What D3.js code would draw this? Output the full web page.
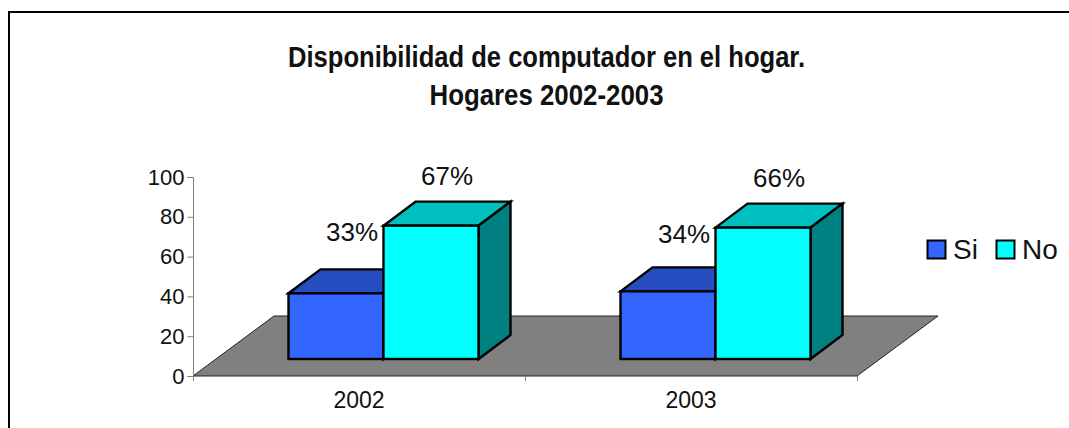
<!DOCTYPE html>
<html><head><meta charset="utf-8">
<script src="https://cdn.jsdelivr.net/npm/d3@7"></script>
<style>html,body{margin:0;padding:0;background:#fff}svg{display:block}text{font-family:"Liberation Sans",Arial,sans-serif;fill:#111}</style>
</head><body><svg id="c" width="1069" height="428"></svg>
<script>
const categories=["2002","2003"];
const seriesNames=["Si","No"];
const si=[33,34];
const no=[67,66];
const yTicks=[0,20,40,60,80,100];
const titleLines=["Disponibilidad de computador en el hogar.","Hogares 2002-2003"];
const titleWidths=[517,234];
const frontColors=["#3366ff","#00ffff"],topColors=["#264dbf","#00bfbf"],sideColors=["#1a3380","#008080"];

const svg=d3.select("#c");
svg.append("path").attr("d","M9,428V12H1069").attr("fill","none").attr("stroke","#000").attr("stroke-width",2);
titleLines.forEach((t,i)=>svg.append("text").attr("x",546.5).attr("y",67+i*38).attr("text-anchor","middle")
 .attr("textLength",titleWidths[i]).attr("lengthAdjust","spacingAndGlyphs")
 .style("font-weight","bold").style("font-size","29px").text(t));

const x=d3.scaleBand().domain(categories).range([193,857]);
const y=d3.scaleLinear().domain([0,100]).range([376,177]);
const fdx=81,fdy=-60;
svg.append("path").attr("d",`M193,376H857L${857+fdx},${376+fdy}H${193+fdx}Z`).attr("fill","#808080").attr("stroke","#222").attr("stroke-width",1);

const yAxis=d3.axisLeft(y).tickValues(yTicks).tickSize(6).tickPadding(3);
const ga=svg.append("g").attr("transform","translate(193.5,0)").call(yAxis);
ga.select(".domain").attr("stroke","#808080").attr("d","M-6,177.5H0V376.5H-6");
ga.selectAll("line").attr("stroke","#808080");
ga.selectAll("text").style("font-size","22px").attr("fill","#111");
const xAxis=d3.axisBottom(x).tickSize(0).tickPadding(15);
const gx=svg.append("g").attr("transform","translate(0,376.5)").call(xAxis);
gx.select(".domain").remove();
gx.selectAll("text").style("font-size","23px").attr("fill","#111").attr("dy","0.71em");
[193,525,857].forEach(v=>svg.append("line").attr("x1",v+.5).attr("x2",v+.5).attr("y1",376).attr("y2",381).attr("stroke","#808080"));

const baseY=359,barW=95,dx=32,dy=-24,shift=24.5;
const h=v=>y(0)-y(v);
function bar(cat,v,k){
  const x0=x(cat)+x.bandwidth()/2+shift-barW+k*barW, x1=x0+barW, top=baseY-h(v);
  const g=svg.append("g").attr("stroke","#000").attr("stroke-width",2.4).attr("stroke-linejoin","miter");
  g.append("path").attr("d",`M${x0},${top}L${x0+dx},${top+dy}H${x1+dx}L${x1},${top}Z`).attr("fill",topColors[k]);
  g.append("path").attr("d",`M${x1},${top}L${x1+dx},${top+dy}V${baseY+dy}L${x1},${baseY}Z`).attr("fill",sideColors[k]);
  g.append("rect").attr("x",x0).attr("y",top).attr("width",barW).attr("height",baseY-top).attr("fill",frontColors[k]);
}
categories.forEach((c,i)=>{bar(c,si[i],0);bar(c,no[i],1);});
categories.forEach((c,i)=>{
  const cx=x(c)+x.bandwidth()/2+shift;
  svg.append("text").attr("x",cx-31.5).attr("y",359-h(no[i])+15).attr("text-anchor","middle").style("font-size","26px").text(si[i]+"%");
  svg.append("text").attr("x",cx+63.5).attr("y",359-h(no[i])-41).attr("text-anchor","middle").style("font-size","26px").text(no[i]+"%");
});
const lx=[927,996];
seriesNames.forEach((n,i)=>{
  svg.append("rect").attr("x",lx[i]+.5).attr("y",240.5).attr("width",18).attr("height",18).attr("fill",frontColors[i]).attr("stroke","#000").attr("stroke-width",2);
  svg.append("text").attr("x",lx[i]+26).attr("y",259).style("font-size","28px").text(n);
});
</script></body></html>
